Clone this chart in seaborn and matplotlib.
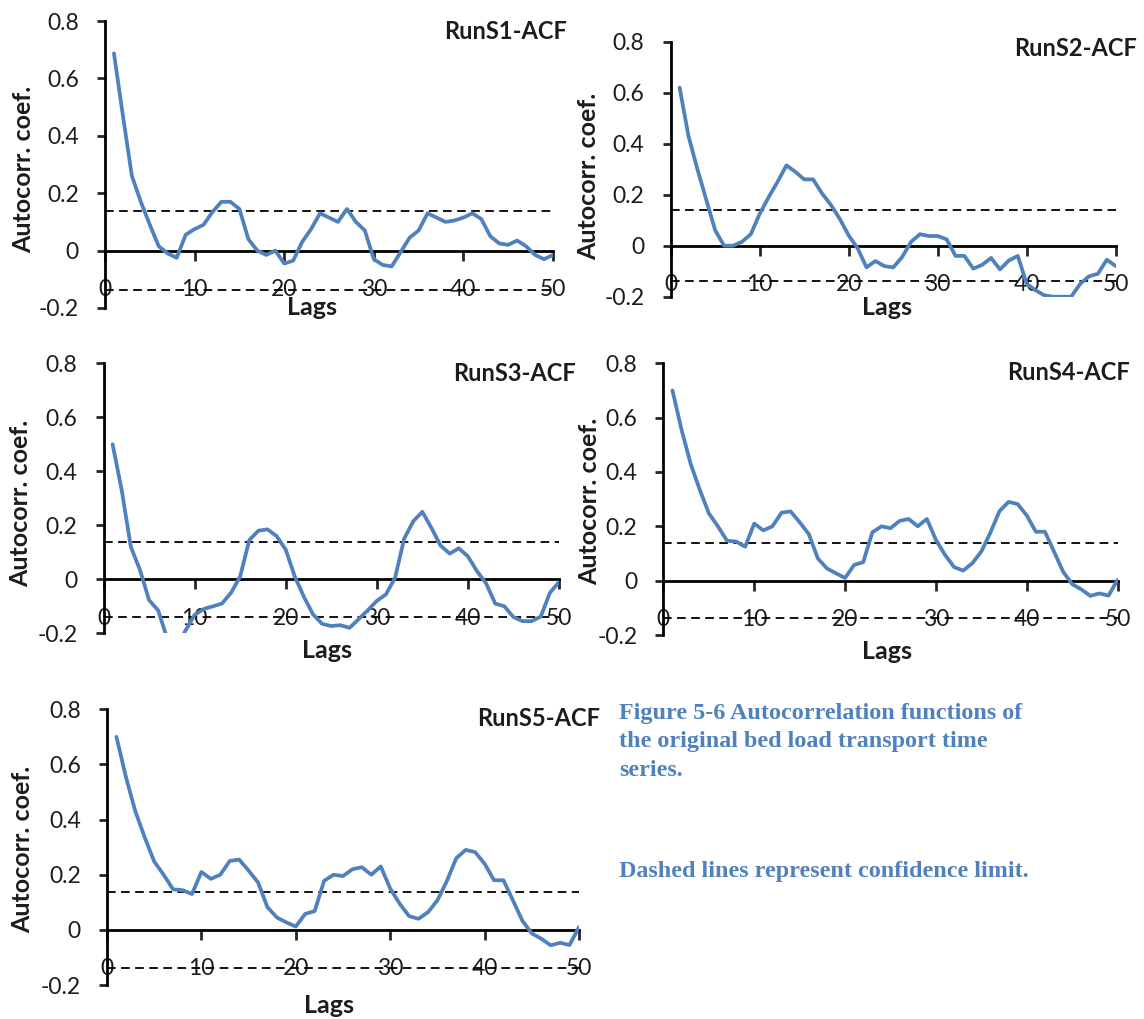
import matplotlib
matplotlib.use("Agg")
import matplotlib.pyplot as plt
import pandas as pd
import seaborn as sns

# ---------------- data ----------------
lags = list(range(1, 51))

runs1 = [0.687, 0.47, 0.26, 0.17, 0.09, 0.015, -0.01, -0.025, 0.055, 0.075,
         0.09, 0.135, 0.17, 0.17, 0.145, 0.04, 0.0, -0.015, 0.0, -0.045,
         -0.035, 0.03, 0.075, 0.13, 0.115, 0.10, 0.145, 0.10, 0.07, -0.03,
         -0.05, -0.055, -0.005, 0.045, 0.07, 0.13, 0.115, 0.10, 0.105, 0.115,
         0.13, 0.11, 0.05, 0.025, 0.02, 0.035, 0.015, -0.015, -0.03, -0.015]

runs2 = [0.62, 0.43, 0.30, 0.18, 0.06, 0.0, 0.0, 0.015, 0.045, 0.125,
         0.19, 0.25, 0.315, 0.29, 0.26, 0.26, 0.205, 0.16, 0.105, 0.04,
         -0.01, -0.085, -0.06, -0.08, -0.085, -0.045, 0.015, 0.045, 0.038, 0.038,
         0.025, -0.04, -0.04, -0.09, -0.075, -0.048, -0.093, -0.058, -0.04, -0.15,
         -0.175, -0.195, -0.2, -0.2, -0.2, -0.15, -0.12, -0.11, -0.055, -0.08]

runs3 = [0.50, 0.33, 0.12, 0.035, -0.077, -0.115, -0.22, -0.26, -0.19, -0.132,
         -0.11, -0.10, -0.09, -0.05, 0.01, 0.145, 0.18, 0.185, 0.16, 0.11,
         0.01, -0.065, -0.13, -0.165, -0.173, -0.17, -0.18, -0.148, -0.115, -0.08,
         -0.056, 0.005, 0.15, 0.215, 0.25, 0.19, 0.125, 0.095, 0.115, 0.085,
         0.03, -0.015, -0.09, -0.10, -0.14, -0.155, -0.155, -0.138, -0.05, -0.01]

runs4 = [0.70, 0.555, 0.43, 0.335, 0.248, 0.20, 0.147, 0.144, 0.125, 0.21,
         0.185, 0.20, 0.25, 0.255, 0.215, 0.172, 0.082, 0.045, 0.027, 0.01,
         0.058, 0.068, 0.178, 0.20, 0.193, 0.22, 0.227, 0.20, 0.227, 0.15,
         0.095, 0.05, 0.037, 0.064, 0.107, 0.177, 0.256, 0.29, 0.282, 0.24,
         0.18, 0.18, 0.107, 0.033, -0.013, -0.032, -0.056, -0.047, -0.055, 0.003]

runs5 = [0.70, 0.555, 0.43, 0.335, 0.248, 0.20, 0.147, 0.144, 0.13, 0.21,
         0.185, 0.20, 0.25, 0.255, 0.215, 0.172, 0.082, 0.045, 0.027, 0.012,
         0.058, 0.068, 0.178, 0.20, 0.195, 0.22, 0.227, 0.20, 0.23, 0.15,
         0.095, 0.05, 0.04, 0.064, 0.107, 0.177, 0.26, 0.29, 0.282, 0.24,
         0.18, 0.18, 0.107, 0.033, -0.013, -0.032, -0.056, -0.047, -0.055, 0.01]

series = [runs1, runs2, runs3, runs4, runs5]
panel_titles = ["RunS1-ACF", "RunS2-ACF", "RunS3-ACF", "RunS4-ACF", "RunS5-ACF"]

conf_limit = 0.139
x_ticks = [0, 10, 20, 30, 40, 50]
x_tick_labels = ["0", "10", "20", "30", "40", "50"]
y_ticks = [-0.2, 0.0, 0.2, 0.4, 0.6, 0.8]
y_tick_labels = ["-0.2", "0", "0.2", "0.4", "0.6", "0.8"]
y_label = "Autocorr. coef."
x_label = "Lags"

caption_lines = ["Figure 5-6 Autocorrelation functions of",
                 "the original bed load transport time",
                 "series."]
note_text = "Dashed lines represent confidence limit."

# ---------------- layout / style ----------------
sns.set_style("white")
plt.rcParams["font.family"] = ["Lato", "DejaVu Sans"]

W, H = 1144, 1019
fig = plt.figure(figsize=(W / 100, H / 100), dpi=100)

LINE_BLUE = "#4F81BD"
TEXT_DARK = "#1c1c1c"

# pixel boxes: left, right, top (y=0.8), bottom (y=-0.2)
boxes = [(105, 553, 21, 308),
         (670.7, 1115.7, 41.7, 296.7),
         (103.5, 559, 363.3, 633.3),
         (663.4, 1117.6, 363.3, 635),
         (107, 579, 709.3, 985)]
ylabel_pos = [(-0.181, 0.484), (-0.185, 0.473), (-0.183, 0.483),
              (-0.162, 0.49), (-0.178, 0.493)]
xlabel_pos = [(0.462, 0.003), (0.486, -0.044), (0.49, -0.062),
              (0.492, -0.061), (0.471, -0.073)]
title_pos = [(1.031, 0.962), (1.047, 0.975), (1.037, 0.964),
             (1.027, 0.965), (1.045, 0.968)]

for i, vals in enumerate(series):
    L, R, T, B = boxes[i]
    ax = fig.add_axes([L / W, 1 - B / H, (R - L) / W, (B - T) / H])
    df = pd.DataFrame({"Lag": lags, "ACF": vals})
    sns.lineplot(data=df, x="Lag", y="ACF", ax=ax, color=LINE_BLUE,
                 linewidth=2.7, zorder=3)
    for c in (conf_limit, -conf_limit):
        ax.axhline(c, color="black", linewidth=1.3, linestyle=(0, (4.8, 3.0)),
                   zorder=2)
    ax.set_xlim(0, 50)
    ax.set_ylim(-0.2, 0.8)
    ax.spines["top"].set_visible(False)
    ax.spines["right"].set_visible(False)
    ax.spines["bottom"].set_position(("data", 0))
    for s in ("left", "bottom"):
        ax.spines[s].set_linewidth(2.0)
        ax.spines[s].set_color("black")
    ax.set_xticks(x_ticks)
    ax.set_xticklabels(x_tick_labels)
    ax.set_yticks(y_ticks)
    ax.set_yticklabels(y_tick_labels)
    ax.tick_params(axis="x", direction="out", length=7, width=2.0,
                   pad=13.5, labelsize=16.5, labelcolor=TEXT_DARK, bottom=True)
    ax.tick_params(axis="y", direction="out", length=5.8, width=2.0,
                   pad=13, labelsize=16.5, labelcolor=TEXT_DARK, left=True)
    ax.set_xlabel(x_label, fontsize=18, fontweight="bold", color=TEXT_DARK,
                  va="center")
    ax.xaxis.set_label_coords(*xlabel_pos[i])
    ax.set_ylabel(y_label, fontsize=18, fontweight="bold", color=TEXT_DARK,
                  va="center")
    ax.yaxis.set_label_coords(*ylabel_pos[i])
    ax.text(title_pos[i][0], title_pos[i][1], panel_titles[i],
            transform=ax.transAxes, ha="right", va="center",
            fontsize=17, fontweight="bold", color=TEXT_DARK)
    ax.set_facecolor("none")

CAP_BLUE = "#4F81BD"
caption_y = [713, 742, 770]
for line, yp in zip(caption_lines, caption_y):
    fig.text(619 / W, 1 - yp / H, line, ha="left", va="center",
             fontsize=17.4, fontweight="bold", color=CAP_BLUE,
             family=["Liberation Serif", "DejaVu Serif"])
fig.text(619 / W, 1 - 872 / H, note_text, ha="left", va="center",
         fontsize=17.4, fontweight="bold", color=CAP_BLUE,
         family=["Liberation Serif", "DejaVu Serif"])

fig.savefig("out.png", dpi=100, facecolor="white")
